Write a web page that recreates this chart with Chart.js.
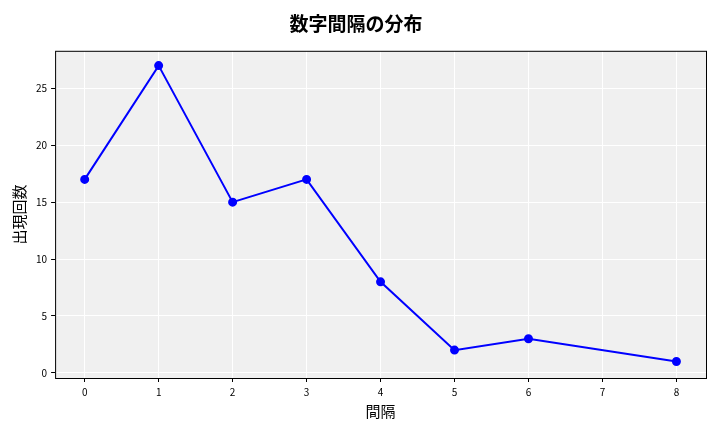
<!DOCTYPE html>
<html><head><meta charset="utf-8">
<script src="https://cdn.jsdelivr.net/npm/chart.js"></script>
<style>body{margin:0;background:#fff}#w{width:720px;height:432px}</style>
</head><body><div id="w"><canvas id="c"></canvas></div>
<script>
const gaps = [0,1,2,3,4,5,6,8];
const counts = [17,27,15,17,8,2,3,1];
const xTicks = [0,1,2,3,4,5,6,7,8];
const yTicks = [0,5,10,15,20,25];
const F = "'Noto Sans CJK JP','DejaVu Sans',sans-serif";
const bg = {id:'bg',beforeDraw(c){const a=c.chartArea,x=c.ctx;x.save();x.fillStyle='#f0f0f0';x.fillRect(a.left,a.top,a.right-a.left,a.bottom-a.top);x.restore();},
 afterDraw(c){const a=c.chartArea,x=c.ctx;x.save();x.strokeStyle='#000';x.lineWidth=1;x.strokeRect(a.left+0.5,a.top+0.5,a.right-a.left,a.bottom-a.top);x.restore();}};
new Chart(document.getElementById('c'),{type:'line',
 data:{datasets:[{data:gaps.map((g,i)=>({x:g,y:counts[i]})),borderColor:'#0000ff',backgroundColor:'#0000ff',borderWidth:2,pointRadius:3.5,pointHoverRadius:3.5,tension:0}]},
 options:{responsive:true,maintainAspectRatio:false,animation:false,
  layout:{padding:{left:6,right:14,top:8,bottom:8}},
  plugins:{legend:{display:false},tooltip:{enabled:false},
   title:{display:true,text:'数字間隔の分布',font:{family:F,size:19,weight:'bold'},color:'#000',padding:{top:4,bottom:16}}},
  scales:{
   x:{type:'linear',min:-0.4,max:8.4,afterBuildTicks(s){s.ticks=xTicks.map(v=>({value:v}));},
    grid:{color:'#ffffff',lineWidth:1,drawTicks:true,tickColor:'#000',tickLength:4},border:{display:false},
    ticks:{font:{family:F,size:10},color:'#000',padding:4},
    title:{display:true,text:'間隔',font:{family:F,size:15},color:'#000',padding:{top:0}}},
   y:{min:-0.45,max:28.3,afterBuildTicks(s){s.ticks=yTicks.map(v=>({value:v}));},
    grid:{color:'#ffffff',lineWidth:1,tickColor:'#000',tickLength:4},border:{display:false},
    ticks:{font:{family:F,size:10},color:'#000',padding:4},
    title:{display:true,text:'出現回数',font:{family:F,size:15},color:'#000',padding:{bottom:4}}}
  }},plugins:[bg]});
</script></body></html>
